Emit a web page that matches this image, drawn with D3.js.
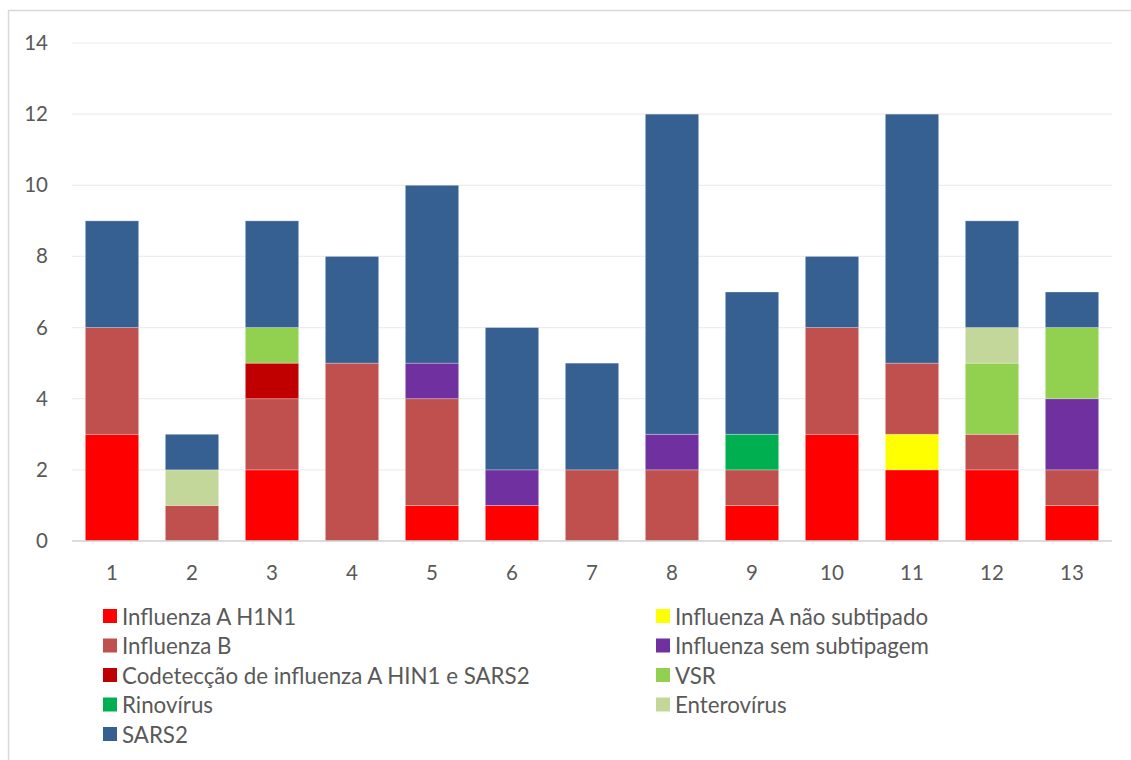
<!DOCTYPE html>
<html>
  <head>
    <meta charset="utf-8" />
    <script src="https://cdn.jsdelivr.net/npm/d3@7"></script>
    <style>
      body { margin: 0; background: #fff; }
      text { font-family: Lato, "Open Sans", sans-serif; fill: #595959; }
    </style>
  </head>
  <body>
    <div id="chart"></div>
    <script type="text/javascript">
var width = 1131, height = 760;

// weeks on the x axis
var categories = ["1","2","3","4","5","6","7","8","9","10","11","12","13"];

// one array per virus, in stack order (bottom to top)
var h1n1        = [3,0,2,0,1,1,0,0,1,3,2,2,1];
var naoSubtip   = [0,0,0,0,0,0,0,0,0,0,1,0,0];
var influenzaB  = [3,1,2,5,3,0,2,2,1,3,2,1,1];
var semSubtip   = [0,0,0,0,1,1,0,1,0,0,0,0,2];
var codetec     = [0,0,1,0,0,0,0,0,0,0,0,0,0];
var vsr         = [0,0,1,0,0,0,0,0,0,0,0,2,2];
var rinovirus   = [0,0,0,0,0,0,0,0,1,0,0,0,0];
var enterovirus = [0,1,0,0,0,0,0,0,0,0,0,1,0];
var sars2       = [3,1,3,3,5,4,3,9,4,2,7,3,1];

var seriesNames = ["Influenza A H1N1","Influenza A não subtipado","Influenza B",
  "Influenza sem subtipagem","Codetecção de influenza A HIN1 e SARS2","VSR",
  "Rinovírus","Enterovírus","SARS2"];
var seriesValues = [h1n1, naoSubtip, influenzaB, semSubtip, codetec, vsr, rinovirus, enterovirus, sars2];
var colors = ["#FF0000","#FFFF00","#C0504D","#7030A0","#C00000","#92D050","#00B050","#C4D79B","#376092"];

var yTicks = [0,2,4,6,8,10,12,14];

var rows = categories.map(function(c, i) {
  var r = {cat: c};
  seriesNames.forEach(function(s, j) { r[s] = seriesValues[j][i]; });
  return r;
});
var stacked = d3.stack().keys(seriesNames)(rows);

var svg = d3.select("#chart").append("svg")
  .attr("width", width)
  .attr("height", height);

// outer chart border (only left/top visible in the picture)
svg.append("rect")
  .attr("x", 8.5).attr("y", 10.5)
  .attr("width", 1200).attr("height", 900)
  .attr("fill", "none")
  .attr("stroke", "#d9d9d9")
  .attr("stroke-width", 1.5);

var plotLeft = 72, plotRight = 1112, plotTop = 43, plotBottom = 541;

var x = d3.scaleBand().domain(categories).range([plotLeft, plotRight]).paddingInner(1/3).paddingOuter(1/6);
var y = d3.scaleLinear().domain([0, 14]).range([plotBottom, plotTop]);

// gridlines
svg.append("g").selectAll("line")
  .data(yTicks.slice(1))
  .enter().append("line")
    .attr("x1", plotLeft).attr("x2", plotRight)
    .attr("y1", function(d) { return y(d); })
    .attr("y2", function(d) { return y(d); })
    .attr("stroke", "#ececec")
    .attr("stroke-width", 1.2);

// bars
svg.append("g").selectAll("g")
  .data(stacked)
  .enter().append("g")
    .attr("fill", function(d, i) { return colors[i]; })
  .selectAll("rect")
  .data(function(d) { return d.filter(function(p) { return p[1] > p[0]; }); })
  .enter().append("rect")
    .attr("x", function(d) { return x(d.data.cat); })
    .attr("width", x.bandwidth())
    .attr("y", function(d) { return y(d[1]); })
    .attr("height", function(d) { return y(d[0]) - y(d[1]); })
    .attr("stroke", "#ffffff")
    .attr("stroke-opacity", 0.35)
    .attr("stroke-width", 0.8);

// baseline
svg.append("line")
  .attr("x1", plotLeft).attr("x2", plotRight)
  .attr("y1", plotBottom).attr("y2", plotBottom)
  .attr("stroke", "#d0d0d0")
  .attr("stroke-width", 1.5);

// y axis labels
var yAxis = d3.axisLeft(y).tickValues(yTicks).tickSize(0).tickPadding(0);
var yg = svg.append("g").attr("transform", "translate(48,0)").call(yAxis);
yg.select(".domain").remove();
yg.selectAll("text").attr("font-size", 20.5).attr("fill", "#595959")
  .style("font-family", "Lato, 'Open Sans', sans-serif");

// x axis labels
var xAxis = d3.axisBottom(x).tickSize(0).tickPadding(0);
var xg = svg.append("g").attr("transform", "translate(0,565)").call(xAxis);
xg.select(".domain").remove();
xg.selectAll("text").attr("font-size", 20.5).attr("fill", "#595959")
  .style("font-family", "Lato, 'Open Sans', sans-serif");

// legend: two columns, reading across
var legend = svg.append("g").selectAll("g")
  .data(seriesNames)
  .enter().append("g")
    .attr("transform", function(d, i) {
      var col = i % 2, row = Math.floor(i / 2);
      return "translate(" + (col === 0 ? 103 : 656) + "," + (616 + row * 29.5) + ")";
    });
legend.append("rect")
  .attr("x", 0).attr("y", -7)
  .attr("width", 14).attr("height", 14)
  .attr("fill", function(d, i) { return colors[i]; });
legend.append("text")
  .attr("x", 19).attr("y", 1)
  .attr("dy", "0.35em")
  .attr("font-size", 22.3)
  .text(function(d) { return d; });
    </script>
  </body>
</html>
